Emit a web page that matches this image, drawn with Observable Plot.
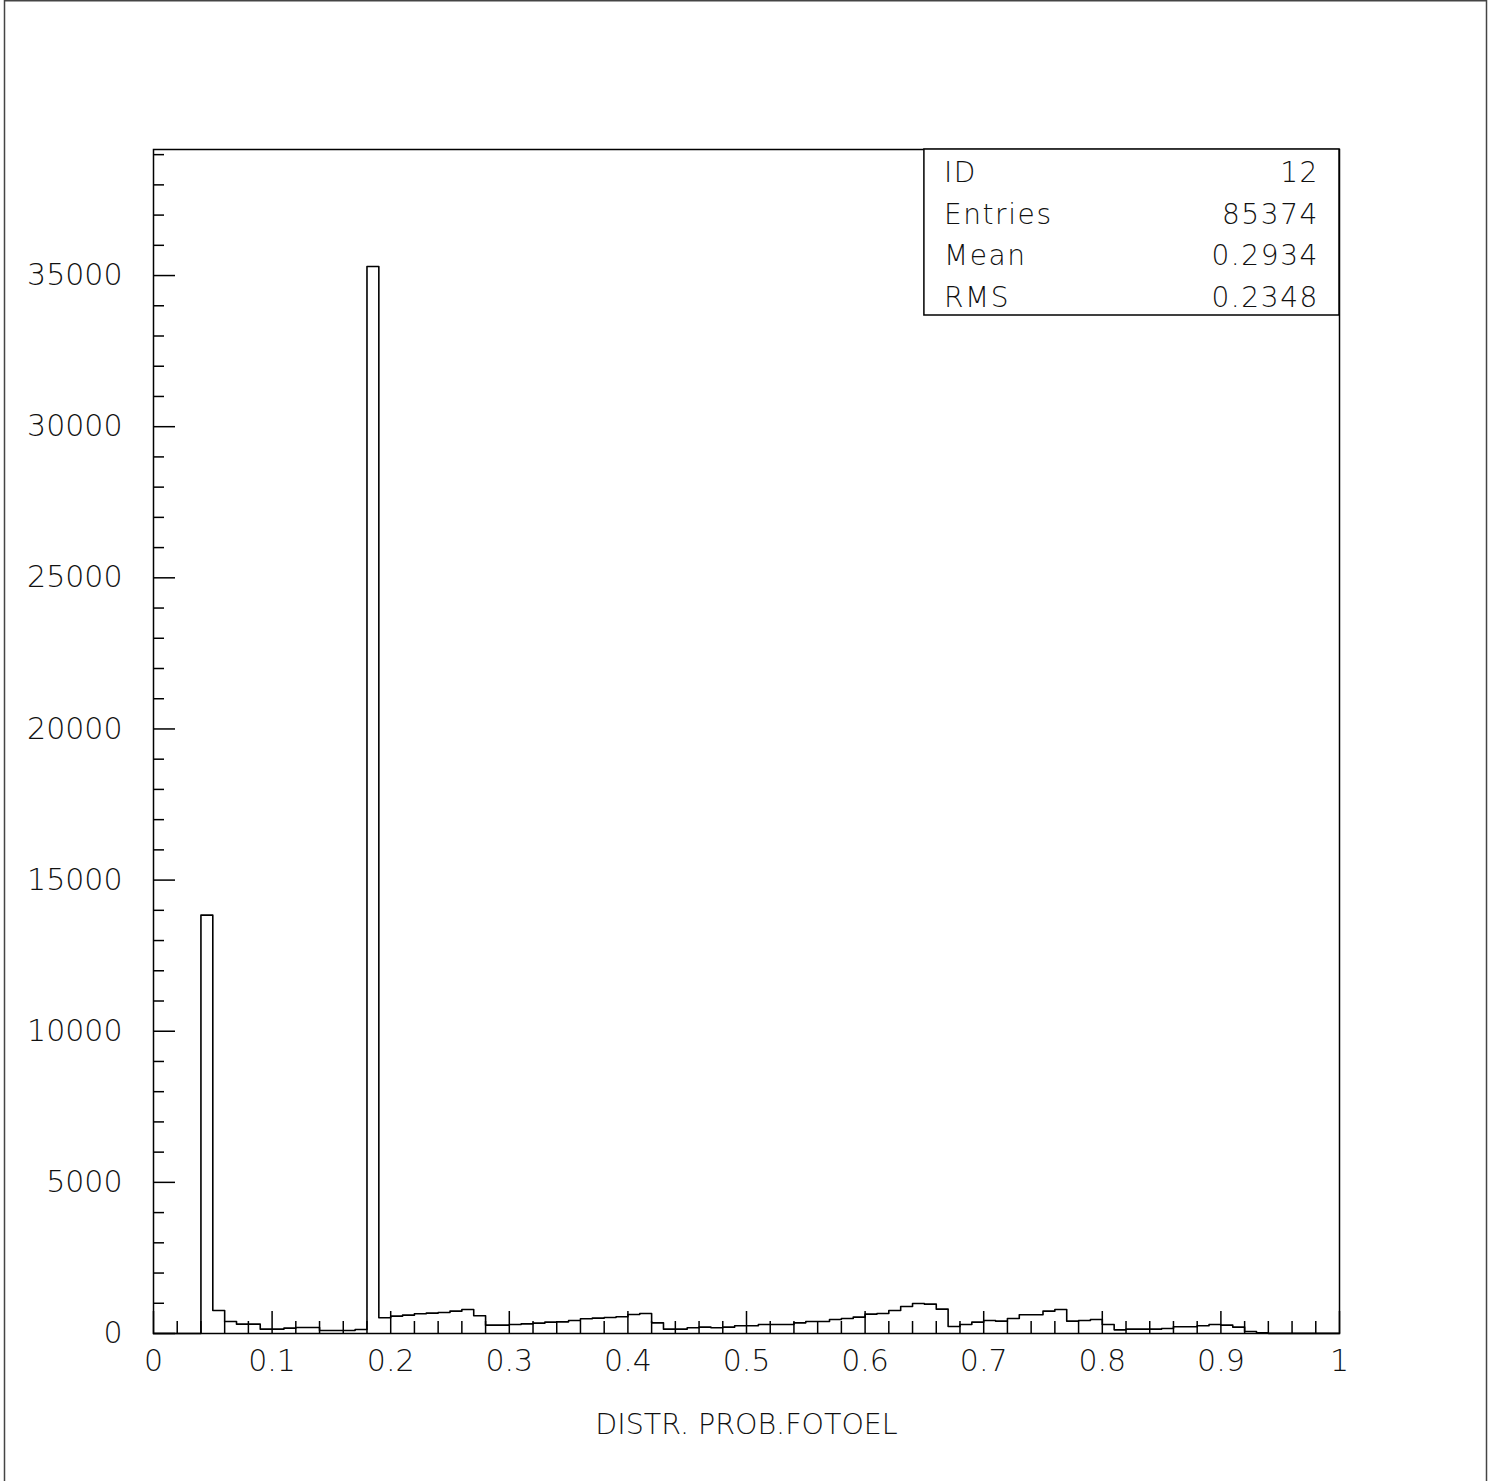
<!DOCTYPE html>
<html>
<head>
<meta charset="utf-8">
<script src="https://cdn.jsdelivr.net/npm/d3@7"></script>
<script src="https://cdn.jsdelivr.net/npm/@observablehq/plot@0.6"></script>
<style>
  html, body { margin: 0; padding: 0; background: #fff; }
  #chart { width: 1488px; height: 1481px; overflow: hidden; }
</style>
</head>
<body>
<div id="chart"></div>
<script>
// Histogram: 100 bins of width 0.01 over [0, 1]
const binStart = 0;
const binWidth = 0.01;
const counts = [
  0, 0, 0, 0, 13840, 762, 397, 309, 309, 144,
  144, 177, 199, 199, 99, 99, 99, 132, 35300, 519,
  574, 607, 651, 673, 695, 740, 795, 585, 276, 276,
  298, 320, 342, 375, 386, 430, 486, 508, 530, 552,
  629, 662, 353, 144, 144, 188, 210, 188, 210, 254,
  254, 298, 298, 298, 353, 397, 397, 464, 497, 541,
  640, 662, 762, 894, 994, 971, 806, 232, 298, 375,
  430, 408, 497, 618, 618, 740, 795, 408, 430, 464,
  298, 121, 144, 144, 144, 166, 221, 221, 254, 298,
  276, 210, 66, 22, 5, 5, 5, 5, 5, 5
];
const xTicks = [0, 0.1, 0.2, 0.3, 0.4, 0.5, 0.6, 0.7, 0.8, 0.9, 1];
const xMinorTicks = [0.02, 0.04, 0.06, 0.08, 0.12, 0.14, 0.16, 0.18, 0.22, 0.24, 0.26, 0.28,
  0.32, 0.34, 0.36, 0.38, 0.42, 0.44, 0.46, 0.48, 0.52, 0.54, 0.56, 0.58, 0.62, 0.64, 0.66, 0.68,
  0.72, 0.74, 0.76, 0.78, 0.82, 0.84, 0.86, 0.88, 0.92, 0.94, 0.96, 0.98];
const yTicks = [0, 5000, 10000, 15000, 20000, 25000, 30000, 35000];
const yMinorTicks = [1000, 2000, 3000, 4000, 6000, 7000, 8000, 9000, 11000, 12000, 13000, 14000,
  16000, 17000, 18000, 19000, 21000, 22000, 23000, 24000, 26000, 27000, 28000, 29000,
  31000, 32000, 33000, 34000, 36000, 37000, 38000, 39000];
const yMax = 39170;
const xLabel = "DISTR. PROB.FOTOEL";
const statLabels = ["ID", "Entries", "Mean", "RMS"];
const statValues = ["12", "85374", "0.2934", "0.2348"];

const steps = counts.map((c, i) => ({x: binStart + i * binWidth, y: c}));
steps.push({x: binStart + counts.length * binWidth, y: counts[counts.length - 1]});

const W = 1488, H = 1481;
const mL = 153, mR = 149, mT = 149, mB = 148;
const pw = W - mL - mR, ph = H - mT - mB;
const font = "'DejaVu Sans', 'Liberation Sans', sans-serif";

const plot = Plot.plot({
  width: W,
  height: H,
  marginLeft: mL,
  marginRight: mR,
  marginTop: mT,
  marginBottom: mB,
  x: {domain: [0, 1]},
  y: {domain: [0, yMax]},
  style: {fontFamily: font, fontWeight: 200, fontSize: "30px", color: "#111", background: "#fff", overflow: "visible"},
  marks: [
    Plot.ruleX(xMinorTicks, {x: d => d, insetTop: ph - 12, stroke: "#000", strokeWidth: 1.5}),
    Plot.ruleX(xTicks, {x: d => d, insetTop: ph - 22, stroke: "#000", strokeWidth: 1.5}),
    Plot.ruleY(yMinorTicks, {y: d => d, insetRight: pw - 11, stroke: "#000", strokeWidth: 1.5}),
    Plot.ruleY(yTicks, {y: d => d, insetRight: pw - 22, stroke: "#000", strokeWidth: 1.5}),
    Plot.axisX({ticks: xTicks, tickSize: 0, tickPadding: 16, tickFormat: d => String(d), label: null}),
    Plot.axisY({ticks: yTicks, tickSize: 0, tickPadding: 31, tickFormat: d => String(d), label: null}),
    Plot.lineY(steps, {x: "x", y: "y", curve: "step-after", stroke: "#000", strokeWidth: 1.6}),
    Plot.frame({stroke: "#000", strokeWidth: 1.5}),
    Plot.text([xLabel], {frameAnchor: "bottom", dy: 100, fontSize: 28.5, fill: "#111"})
  ]
});

// Statistics box (top-right), HIGZ style
const svg = d3.select(plot);
const xs = plot.scale("x");
const boxLeft = xs.apply(0.65);
const boxRight = mL + pw;
const rowH = 41.5;
const g = svg.append("g").attr("font-family", font).attr("font-weight", 200).attr("font-size", 28)
  .attr("fill", "#111").attr("letter-spacing", "1.6px");
g.append("rect")
  .attr("x", boxLeft).attr("y", mT)
  .attr("width", boxRight - boxLeft).attr("height", rowH * statLabels.length)
  .attr("fill", "#fff").attr("stroke", "#000").attr("stroke-width", 1.5);
statLabels.forEach((lab, i) => {
  const cy = mT + rowH * i + 23;
  g.append("text").attr("x", boxLeft + 20).attr("y", cy).attr("dy", "0.36em").attr("text-anchor", "start").text(lab);
  g.append("text").attr("x", boxRight - 20).attr("y", cy).attr("dy", "0.36em").attr("text-anchor", "end").text(statValues[i]);
});
// Outer page border
svg.append("rect")
  .attr("x", 4.5).attr("y", 0.75).attr("width", 1482).attr("height", H + 20)
  .attr("fill", "none").attr("stroke", "#444").attr("stroke-width", 1.5);

document.getElementById("chart").appendChild(plot);
</script>
</body>
</html>
